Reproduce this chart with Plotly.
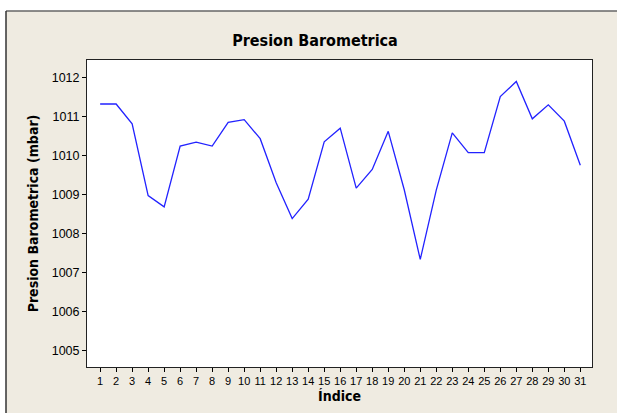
import plotly.graph_objects as go

indices = list(range(1, 32))
presion = [1011.32, 1011.32, 1010.81, 1008.97, 1008.68, 1010.24, 1010.34, 1010.24,
           1010.85, 1010.92, 1010.43, 1009.30, 1008.38, 1008.88, 1010.35, 1010.70,
           1009.16, 1009.64, 1010.62, 1009.12, 1007.33, 1009.11, 1010.58, 1010.07,
           1010.07, 1011.51, 1011.90, 1010.94, 1011.30, 1010.88, 1009.75]
tick_labels = [str(i) for i in indices]

W, H = 617, 413
L, R, T, B = 87, 25, 60, 46
pw, ph = W - L - R, H - T - B

def px_x(x):
    return (x - L) / pw

def px_y(y):
    return (H - B - y) / ph

font_tick = "Liberation Sans, Arial, sans-serif"
font_bold = "DejaVu Sans Condensed, DejaVu Sans, sans-serif"
beige = "#EFEBE1"

fig = go.Figure()
fig.add_trace(go.Scatter(x=indices, y=presion, mode="lines",
                         line=dict(color="#2222ff", width=1.3), showlegend=False,
                         hoverinfo="skip"))

# white strips outside the outer frame (top and left)
fig.add_shape(type="rect", xref="paper", yref="paper",
              x0=px_x(-5), x1=px_x(W + 5), y0=px_y(11), y1=px_y(-5),
              fillcolor="white", line=dict(width=0), layer="below")
fig.add_shape(type="rect", xref="paper", yref="paper",
              x0=px_x(-5), x1=px_x(6), y0=px_y(H + 5), y1=px_y(-5),
              fillcolor="white", line=dict(width=0), layer="below")
# outer frame border lines
fig.add_shape(type="line", xref="paper", yref="paper",
              x0=px_x(6), x1=px_x(W + 5), y0=px_y(11), y1=px_y(11),
              line=dict(color="#666666", width=1.5), layer="below")
fig.add_shape(type="line", xref="paper", yref="paper",
              x0=px_x(6), x1=px_x(6), y0=px_y(11), y1=px_y(H + 5),
              line=dict(color="#333333", width=1.5), layer="below")

fig.update_layout(
    width=W, height=H,
    margin=dict(l=L, r=R, t=T, b=B),
    paper_bgcolor=beige,
    plot_bgcolor="white",
    title=dict(text="<b>Presion Barometrica</b>", x=315 / W, xanchor="center",
               y=1 - 40 / H, yanchor="middle",
               font=dict(family=font_bold, size=16, color="black")),
    xaxis=dict(range=[0.18, 31.73], tickmode="array", tickvals=indices, ticktext=tick_labels,
               ticks="outside", ticklen=4, tickcolor="black", showgrid=False, zeroline=False,
               showline=True, linecolor="#222222", linewidth=1, mirror=True,
               tickfont=dict(family=font_tick, size=11, color="black"),
               title=dict(text="<b>Índice</b>", standoff=4,
                          font=dict(family=font_bold, size=14, color="black"))),
    yaxis=dict(range=[1004.57, 1012.45], tickvals=[1005, 1006, 1007, 1008, 1009, 1010, 1011, 1012],
               ticks="outside", ticklen=4, tickcolor="black", showgrid=False, zeroline=False,
               showline=True, linecolor="#222222", linewidth=1, mirror=True,
               tickfont=dict(family=font_tick, size=12.5, color="black"),
               title=dict(text="<b>Presion Barometrica (mbar)</b>", standoff=9,
                          font=dict(family=font_bold, size=14, color="black"))),
)

fig.write_html("out.html", config={"displayModeBar": False},
               post_script="document.body.style.margin='0';document.body.style.overflow='hidden';")
